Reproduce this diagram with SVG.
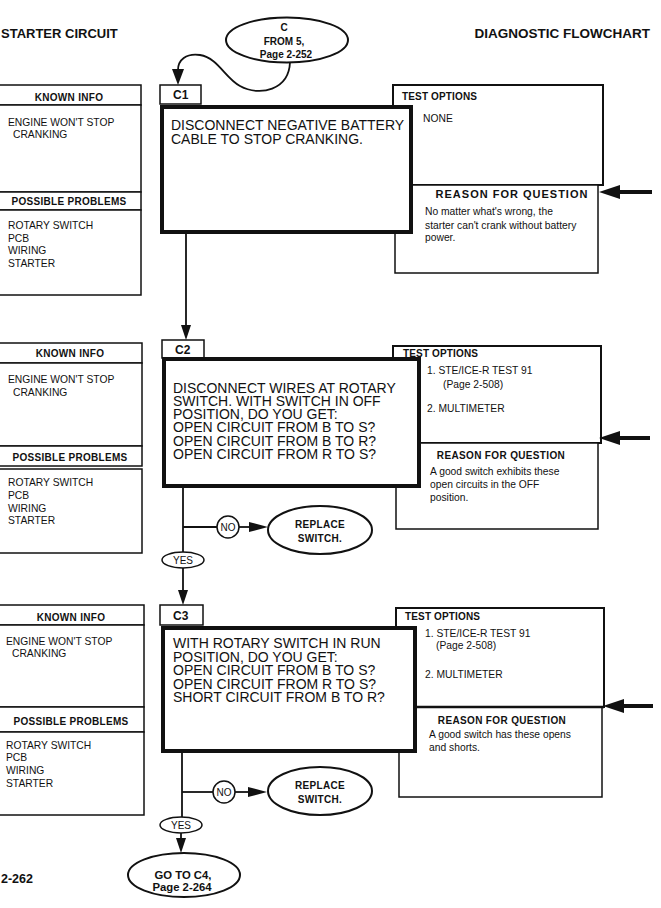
<svg xmlns="http://www.w3.org/2000/svg" width="661" height="908" viewBox="0 0 661 908">
<style>
.bx{fill:#fff;stroke:#111;stroke-width:1.5}
.main{fill:#fff;stroke:#111;stroke-width:4}
.ln{fill:none;stroke:#111;stroke-width:1.8}
.thk{fill:none;stroke:#111;stroke-width:4}
.ah{fill:#111}
.ov{fill:#fff;stroke:#111;stroke-width:2}
text{font-family:"Liberation Sans",Arial,sans-serif;fill:#111}
.hd{font-size:13.5px;font-weight:bold}
.mt{font-size:14px}
.tab{font-size:12px;font-weight:bold}
.ph{font-size:10px;font-weight:bold;letter-spacing:0.3px;text-anchor:middle}
.pt{font-size:10.3px}
.to{font-size:10px;font-weight:bold;letter-spacing:0.15px}
.rq{font-size:10px;font-weight:bold;letter-spacing:0.35px;text-anchor:middle}
.ot{font-size:10px;font-weight:bold;text-anchor:middle}
.ot2{font-size:11.3px;font-weight:bold;text-anchor:middle}
.yn{font-size:10px;text-anchor:middle}
</style>
<rect width="661" height="908" fill="#fff"/>

<g id="header">
<text class="hd" x="1" y="38" style="font-size:13px">STARTER CIRCUIT</text>
<text class="hd" x="650" y="38" text-anchor="end">DIAGNOSTIC FLOWCHART</text>
<text class="hd" x="1" y="883" style="font-size:12.5px">2-262</text>
</g>

<!-- Left info panels -->
<g id="info1">
<rect class="bx" x="-2" y="85" width="143" height="20"/>
<rect class="bx" x="-2" y="105" width="143" height="87"/>
<rect class="bx" x="-2" y="192" width="143" height="18"/>
<rect class="bx" x="-2" y="210" width="143" height="85"/>
<text class="ph" x="69" y="100.5">KNOWN INFO</text>
<text class="pt" x="8" y="126">ENGINE WON'T STOP</text>
<text class="pt" x="13" y="138">CRANKING</text>
<text class="ph" x="69" y="204.5">POSSIBLE PROBLEMS</text>
<text class="pt" x="8" y="229">ROTARY SWITCH</text>
<text class="pt" x="8" y="241.5">PCB</text>
<text class="pt" x="8" y="254">WIRING</text>
<text class="pt" x="8" y="266.5">STARTER</text>
</g>
<g id="info2">
<rect class="bx" x="-2" y="343" width="144" height="20"/>
<rect class="bx" x="-2" y="363" width="144" height="83"/>
<rect class="bx" x="-2" y="446" width="144" height="20"/>
<rect class="bx" x="-2" y="469" width="144" height="84"/>
<text class="ph" x="70" y="357">KNOWN INFO</text>
<text class="pt" x="8" y="382.5">ENGINE WON'T STOP</text>
<text class="pt" x="13" y="395.5">CRANKING</text>
<text class="ph" x="70" y="460.5">POSSIBLE PROBLEMS</text>
<text class="pt" x="8" y="486">ROTARY SWITCH</text>
<text class="pt" x="8" y="499">PCB</text>
<text class="pt" x="8" y="511.5">WIRING</text>
<text class="pt" x="8" y="524">STARTER</text>
</g>
<g id="info3">
<rect class="bx" x="-2" y="605" width="146" height="20"/>
<rect class="bx" x="-2" y="625" width="146" height="82"/>
<rect class="bx" x="-2" y="707" width="146" height="25"/>
<rect class="bx" x="-2" y="732" width="146" height="83"/>
<text class="ph" x="71" y="620.5">KNOWN INFO</text>
<text class="pt" x="6" y="645">ENGINE WON'T STOP</text>
<text class="pt" x="12" y="657">CRANKING</text>
<text class="ph" x="71" y="724.5">POSSIBLE PROBLEMS</text>
<text class="pt" x="6" y="749">ROTARY SWITCH</text>
<text class="pt" x="6" y="761">PCB</text>
<text class="pt" x="6" y="774">WIRING</text>
<text class="pt" x="6" y="787">STARTER</text>
</g>

<!-- Right panels -->
<g id="test1">
<rect class="bx" x="393" y="85" width="210" height="100" style="stroke-width:2"/>
<rect class="bx" x="395" y="185" width="203" height="88"/>
<text class="to" x="402" y="100">TEST OPTIONS</text>
<text class="pt" x="423" y="122">NONE</text>
<text x="512" y="198" style="font-size:11px;font-weight:bold;letter-spacing:1px;text-anchor:middle">REASON FOR QUESTION</text>
<text class="pt" x="425" y="214.5">No matter what's wrong, the</text>
<text class="pt" x="425" y="228.5">starter can't crank without battery</text>
<text class="pt" x="425" y="241">power.</text>
</g>
<g id="test2">
<rect class="bx" x="393" y="346" width="208" height="97" style="stroke-width:2"/>
<rect class="bx" x="396" y="443" width="202" height="86"/>
<text class="to" x="403" y="356.5">TEST OPTIONS</text>
<text class="pt" x="427" y="373.5">1. STE/ICE-R TEST 91</text>
<text class="pt" x="443" y="387.5">(Page 2-508)</text>
<text class="pt" x="427" y="411.5">2. MULTIMETER</text>
<text class="rq" x="501" y="458.5">REASON FOR QUESTION</text>
<text class="pt" x="430" y="474.5">A good switch exhibits these</text>
<text class="pt" x="430" y="487.5">open circuits in the OFF</text>
<text class="pt" x="430" y="500.5">position.</text>
</g>
<g id="test3">
<rect class="bx" x="396" y="608" width="208" height="99" style="stroke-width:2"/>
<rect class="bx" x="399" y="707" width="203" height="90"/>
<line x1="396" y1="707" x2="604" y2="707" style="stroke:#111;stroke-width:2.5"/>
<text class="to" x="405" y="619.5">TEST OPTIONS</text>
<text class="pt" x="425" y="637">1. STE/ICE-R TEST 91</text>
<text class="pt" x="436" y="649">(Page 2-508)</text>
<text class="pt" x="425" y="678">2. MULTIMETER</text>
<text class="rq" x="502" y="724">REASON FOR QUESTION</text>
<text class="pt" x="429" y="738">A good switch has these opens</text>
<text class="pt" x="429" y="751">and shorts.</text>
</g>

<!-- Main steps -->
<g id="C1">
<rect class="bx" x="160" y="85" width="41" height="19"/>
<text class="tab" x="173" y="99">C1</text>
<rect class="main" x="162" y="107" width="249" height="125"/>
<text class="mt" x="171" y="130">DISCONNECT NEGATIVE BATTERY</text>
<text class="mt" x="171" y="143.5">CABLE TO STOP CRANKING.</text>
</g>
<g id="C2">
<rect class="bx" x="162" y="340" width="42" height="18"/>
<text class="tab" x="175" y="354">C2</text>
<rect class="main" x="164" y="359" width="255" height="127"/>
<text class="mt" x="173" y="392.5">DISCONNECT WIRES AT ROTARY</text>
<text class="mt" x="173" y="405.8">SWITCH. WITH SWITCH IN OFF</text>
<text class="mt" x="173" y="419.1">POSITION,  DO YOU GET:</text>
<text class="mt" x="173" y="432.4">OPEN CIRCUIT FROM B TO S?</text>
<text class="mt" x="173" y="445.7">OPEN CIRCUIT FROM B TO R?</text>
<text class="mt" x="173" y="459">OPEN CIRCUIT FROM R TO S?</text>
</g>
<g id="C3">
<rect class="bx" x="160" y="605" width="43" height="20"/>
<text class="tab" x="173" y="620">C3</text>
<rect class="main" x="163" y="628" width="252" height="123"/>
<text class="mt" x="173" y="648">WITH ROTARY SWITCH IN RUN</text>
<text class="mt" x="173" y="661.5">POSITION, DO YOU GET:</text>
<text class="mt" x="173" y="675">OPEN CIRCUIT FROM B TO S?</text>
<text class="mt" x="173" y="688.5">OPEN CIRCUIT FROM R TO S?</text>
<text class="mt" x="173" y="702">SHORT CIRCUIT FROM B TO R?</text>
</g>

<!-- Terminals -->
<g id="fromC">
<ellipse class="ov" cx="287" cy="40" rx="61" ry="22.5"/>
<text class="ot" x="284" y="31">C</text>
<text class="ot" x="284" y="44.5">FROM  5,</text>
<text class="ot" x="286" y="58">Page 2-252</text>
</g>
<g id="replace1">
<ellipse class="ov" cx="320" cy="530" rx="52" ry="24"/>
<text class="ot" x="320" y="527.5" style="letter-spacing:0.3px">REPLACE</text>
<text class="ot" x="320" y="541.5" style="letter-spacing:0.3px">SWITCH.</text>
</g>
<g id="replace2">
<ellipse class="ov" cx="320" cy="791" rx="52" ry="24"/>
<text class="ot" x="320" y="788.5" style="letter-spacing:0.3px">REPLACE</text>
<text class="ot" x="320" y="802.5" style="letter-spacing:0.3px">SWITCH.</text>
</g>
<g id="goto">
<ellipse class="ov" cx="184" cy="875" rx="56" ry="22"/>
<text class="ot2" x="183" y="879">GO TO C4,</text>
<text class="ot2" x="182" y="891">Page 2-264</text>
</g>

<!-- Connectors -->
<g id="connectors">
<path class="ln" d="M290,62 C289,90 260,97 240,86 C225,78 218,58 200,55 C186,53 178,60 178,70"/>
<polygon class="ah" points="172,69 184,69 178,85"/>

<line class="ln" x1="186" y1="234" x2="186" y2="327"/>
<polygon class="ah" points="181,325 191,325 186,340"/>

<line class="ln" x1="183" y1="488" x2="183" y2="552"/>
<line class="ln" x1="183" y1="527" x2="217" y2="527"/>
<line class="ln" x1="239" y1="527" x2="252" y2="527"/>
<polygon class="ah" points="249,522 249,532 268,527"/>
<line class="ln" x1="183" y1="568" x2="183" y2="592"/>
<polygon class="ah" points="178,590 188,590 183,605"/>

<line class="ln" x1="182" y1="753" x2="182" y2="817"/>
<line class="ln" x1="182" y1="792" x2="213" y2="792"/>
<line class="ln" x1="235" y1="792" x2="250" y2="792"/>
<polygon class="ah" points="248,787 248,797 267,792"/>
<line class="ln" x1="181" y1="833" x2="181" y2="840"/>
<polygon class="ah" points="176,838 186,838 181,853"/>

<line class="thk" x1="652" y1="192" x2="616" y2="192"/>
<polygon class="ah" points="620,185 620,199 599,192"/>
<line class="thk" x1="650" y1="438" x2="616" y2="438"/>
<polygon class="ah" points="620,431 620,445 599,438"/>
<line class="thk" x1="653" y1="706" x2="620" y2="706"/>
<polygon class="ah" points="624,699 624,713 603,706"/>
</g>

<g id="labels">
<circle class="ov" cx="228" cy="527" r="11" style="stroke-width:1.5"/>
<text class="yn" x="228" y="530.5">NO</text>
<ellipse class="ov" cx="183" cy="560" rx="21" ry="8" style="stroke-width:1.5"/>
<text class="yn" x="183" y="563.5">YES</text>
<circle class="ov" cx="224" cy="792" r="11" style="stroke-width:1.5"/>
<text class="yn" x="224" y="795.5">NO</text>
<ellipse class="ov" cx="181" cy="825" rx="21" ry="8" style="stroke-width:1.5"/>
<text class="yn" x="181" y="828.5">YES</text>
</g>
</svg>
